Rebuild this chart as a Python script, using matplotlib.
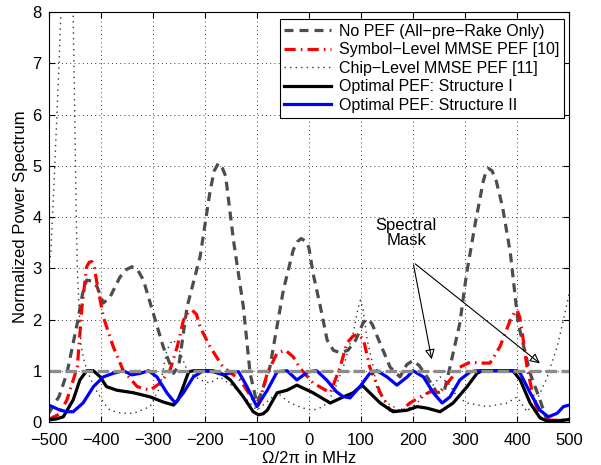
import numpy as np
import matplotlib
matplotlib.use('Agg')
import matplotlib.pyplot as plt

plt.rcParams['font.family'] = ['Liberation Sans', 'DejaVu Sans']
plt.rcParams['font.size'] = 12

# No PEF (All-pre-Rake only)
f_nopef = [-500, -480, -465, -445, -435, -427, -417, -407, -395, -382, -363, -350, -340, -328, -318,
           -299, -280, -260, -250, -234, -209, -190, -182, -174, -166, -160, -145, -126, -113,
           -100, -90, -75, -49, -30, -22, -15, -5, 0, 8, 22, 35, 47, 60, 75, 90, 104, 110, 115,
           122, 130, 156, 175, 188, 200, 212, 227, 246, 260, 271, 290, 303, 320, 335, 340, 345,
           352, 360, 372, 387, 402, 425, 444, 457, 480, 500]
p_nopef = [0.17, 0.5, 0.95, 1.93, 2.5, 2.77, 2.75, 2.64, 2.32, 2.44, 2.83, 2.98, 3.03, 2.95, 2.77,
           2.12, 1.47, 0.95, 1.1, 2.25, 3.23, 4.5, 4.9, 5.05, 4.95, 4.8, 3.55, 2.25, 0.95,
           0.37, 0.6, 1.07, 2.58, 3.36, 3.52, 3.58, 3.52, 3.4, 2.9, 2.25, 1.6, 1.4, 1.35, 1.4, 1.6, 1.93, 2.0, 2.0,
           1.9, 1.7, 1.07, 0.88, 1.12, 1.2, 1.1, 0.88, 0.57, 0.6, 1.07, 1.93, 2.9, 3.9, 4.7, 4.88, 4.95,
           4.9, 4.7, 4.2, 3.3, 1.93, 0.95, 0.43, 0.04, 0.03, 0.04]

# Symbol-level MMSE PEF [10]
f_sym = [-500, -480, -465, -445, -436, -427, -422, -417, -412, -407, -395, -376, -357, -330, -305,
         -286, -267, -253, -241, -232, -224, -216, -209, -190, -165, -132, -107, -97, -80,
         -61, -45, -30, -17, 8, 41, 60, 73, 85, 92, 98, 105, 117, 137, 156, 175, 194, 214,
         233, 252, 271, 290, 310, 329, 348, 367, 387, 395, 400, 405, 410, 419, 431, 444, 457,
         480, 500]
p_sym = [0.05, 0.15, 0.43, 1.07, 2.25, 3.03, 3.12, 3.13, 3.0, 2.7, 2.05, 1.47, 1.01, 0.69, 0.62,
         0.76, 1.01, 1.47, 1.99, 2.14, 2.18, 2.1, 1.85, 1.47, 1.07, 0.82, 0.43, 0.33, 0.95,
         1.35, 1.4, 1.27, 1.05, 0.76, 0.57, 1.07, 1.54, 1.68, 1.7, 1.68, 1.6, 1.07, 0.57, 0.23, 0.2, 0.37, 0.49,
         0.59, 0.59, 0.82, 1.07, 1.17, 1.15, 1.15, 1.47, 1.99, 2.14, 2.18, 2.05, 1.73, 1.07, 0.49, 0.1, 0.04,
         0.03, 0.03]

# Chip-level MMSE PEF [11]
f_chip = [-500, -496, -490, -485, -480, -476, -466, -456, -453, -450, -447, -445, -441, -438,
          -432, -426, -413, -394, -382, -360, -337, -305, -286, -273, -265, -260, -254, -247, -234,
          -209, -190, -171, -145, -119, -100, -80, -61, -36, -11, 8, 28, 47, 66, 85, 94, 99, 104,
          112, 124, 131, 150, 175, 200, 220, 236, 252, 268, 285, 304, 342, 381, 400, 419, 438,
          457, 477, 489, 500]
p_chip = [3.0, 3.3, 4.6, 5.8, 7.0, 8.2, 20.0, 9.0, 8.0, 6.0, 4.0, 3.0, 2.1, 1.5,
          1.2, 1.0, 0.69, 0.37, 0.23, 0.17, 0.17, 0.3, 0.69, 1.4, 1.55, 1.6, 1.5, 1.35, 1.0,
          0.82, 0.76, 0.88, 0.69, 0.43, 0.23, 0.4, 0.57, 0.37, 0.27, 0.23, 0.3, 0.57, 1.07, 1.73, 2.2, 2.38, 2.2,
          1.6, 1.07, 0.62, 0.37, 0.23, 0.3, 0.49, 0.69, 0.88, 0.76, 0.49, 0.37, 0.3, 0.37, 0.49, 0.2, 0.43,
          0.85, 1.47, 1.99, 2.5]

# Optimal PEF: Structure I
f_opt1 = [-500, -485, -472, -453, -440, -427, -414, -401, -389, -369, -337, -305, -280, -260, -252,
          -244, -231, -222, -184, -165, -151, -126, -107, -97, -88, -80, -61, -42, -23, -17, 8, 41,
          66, 85, 102, 117, 137, 162, 189, 208, 227, 252, 277, 304, 323, 333, 392, 406, 425,
          444, 457, 480, 500]
p_opt1 = [0.04, 0.06, 0.1, 0.43, 0.82, 1.0, 1.0, 0.88, 0.69, 0.62, 0.57, 0.49, 0.39, 0.33, 0.42,
          0.62, 0.98, 1.0, 1.0, 0.93, 0.82, 0.49, 0.2, 0.14, 0.16, 0.23, 0.57, 0.62, 0.72, 0.69, 0.57, 0.37,
          0.49, 0.57, 0.72, 0.57, 0.37, 0.2, 0.23, 0.3, 0.27, 0.2, 0.37, 0.69, 0.95, 1.0, 1.0, 0.82, 0.37,
          0.08, 0.02, 0.02, 0.05]

# Optimal PEF: Structure II
f_opt2 = [-500, -478, -465, -453, -434, -414, -395, -376, -357, -340, -324, -308, -292, -273, -257,
          -241, -222, -203, -184, -164, -145, -135, -119, -100, -80, -61, -42, -23, -2, 15,
          34, 53, 65, 79, 98, 117, 131, 150, 169, 189, 200, 220, 239, 256, 271, 290, 310, 323,
          400, 406, 425, 444, 460, 477, 489, 500]
p_opt2 = [0.33, 0.23, 0.2, 0.2, 0.37, 0.69, 0.88, 0.95, 1.0, 0.92, 0.95, 1.0, 0.88, 0.57, 0.37,
          0.57, 0.88, 1.0, 0.98, 0.92, 0.98, 0.98, 0.69, 0.3, 0.62, 0.98, 1.0, 0.82, 0.98, 1.0,
          0.82, 0.59, 0.5, 0.47, 0.69, 0.95, 1.0, 0.88, 0.72, 0.88, 1.0, 0.88, 0.57, 0.37, 0.49, 0.82, 0.98, 1.0,
          1.0, 0.95, 0.57, 0.23, 0.1, 0.17, 0.3, 0.33]

mask_level = 1.0

labels = ['No PEF (All\u2212pre\u2212Rake Only)', 'Symbol\u2212Level MMSE PEF [10]',
          'Chip\u2212Level MMSE PEF [11]', 'Optimal PEF: Structure I', 'Optimal PEF: Structure II']

fig = plt.figure(figsize=(6.01, 4.65), dpi=100)
ax = fig.add_axes([0.081, 0.0925, 0.866, 0.8815])

kw = dict(solid_joinstyle='round', dash_joinstyle='round')
ax.plot(f_nopef, p_nopef, color=(0.3, 0.3, 0.3), linestyle=(0, (2.8, 1.9)), linewidth=2.3, label=labels[0], **kw)
ax.plot(f_sym, p_sym, color='r', linestyle=(0, (3.5, 1.6, 0.5, 1.6)), linewidth=2.3, label=labels[1], **kw)
ax.plot(f_chip, p_chip, color=(0.2, 0.2, 0.2), linestyle=(0, (1, 3)), linewidth=1.0, label=labels[2], **kw)
ax.plot(f_opt1, p_opt1, color='k', linestyle='-', linewidth=2.3, label=labels[3], **kw)
ax.plot(f_opt2, p_opt2, color='b', linestyle='-', linewidth=2.3, label=labels[4], **kw)
ax.plot([-500, 500], [mask_level, mask_level], color=(0.55, 0.55, 0.55), linestyle=(0, (3.5, 1.3)), linewidth=2.4)

ax.annotate('', xy=(237, 1.17), xytext=(200, 3.12),
            arrowprops=dict(arrowstyle='-|>', color='k', lw=0.8, mutation_scale=15,
                            fill=False))
ax.annotate('', xy=(448, 1.11), xytext=(200, 3.12),
            arrowprops=dict(arrowstyle='-|>', color='k', lw=0.8, mutation_scale=15,
                            fill=False))
ax.text(187, 3.69, 'Spectral\nMask', ha='center', va='center', linespacing=1.05)

ax.set_xlim(-500, 500)
ax.set_ylim(0, 8)
ax.set_xticks(np.arange(-500, 501, 100))
ax.set_yticks(np.arange(0, 9, 1))
ax.grid(True, color='k', linestyle=(0, (1, 4)), linewidth=0.6)
ax.tick_params(direction='in', top=True, right=True, length=4)
ax.tick_params(axis='x', pad=8)
ax.tick_params(axis='y', pad=5)
ax.set_xlabel('\u03a9/2\u03c0 in MHz', labelpad=2)
ax.set_ylabel('Normalized Power Spectrum', labelpad=3)

leg = ax.legend(loc='upper right', bbox_to_anchor=(0.99, 0.983), fancybox=False,
                edgecolor='k', framealpha=1, handlelength=2.9, borderpad=0.3,
                labelspacing=0.22, handletextpad=0.5, borderaxespad=0, fontsize=11.5)
leg.get_frame().set_linewidth(0.8)

plt.savefig('out.png', dpi=100)
